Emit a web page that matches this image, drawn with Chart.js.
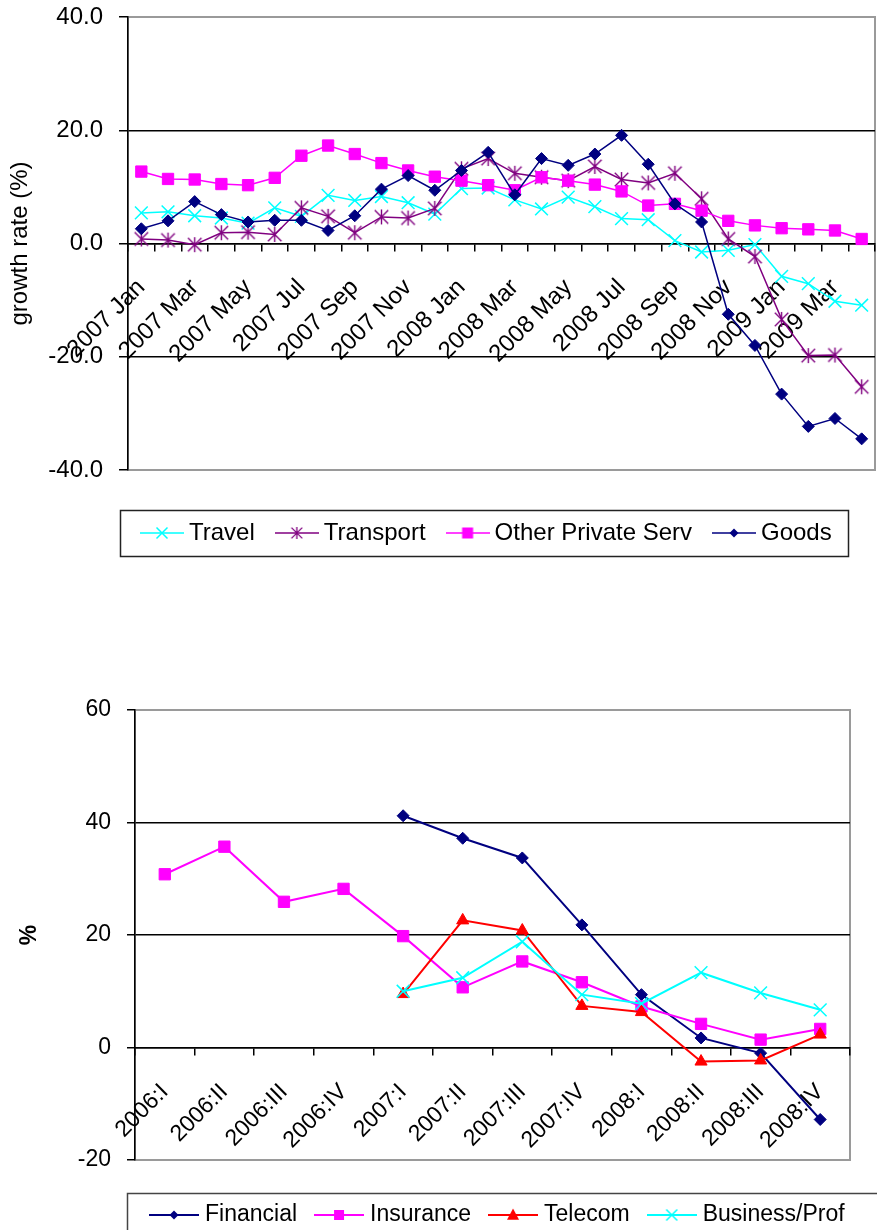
<!DOCTYPE html>
<html>
<head>
<meta charset="utf-8">
<title>Growth rates</title>
<script src="https://cdn.jsdelivr.net/npm/chart.js@4/dist/chart.umd.min.js"></script>
<style>
  html, body { margin: 0; padding: 0; background: #fff; overflow: hidden; }
  #monthly { position: absolute; left: 0; top: 0; width: 877px; height: 600px; }
  #quarterly { position: absolute; left: 0; top: 600px; width: 877px; height: 630px; }
</style>
</head>
<body>
<div id="monthly"><canvas id="monthlyChart"></canvas></div>
<div id="quarterly"><canvas id="quarterlyChart"></canvas></div>
<script>
// ---- monthly series, growth rate (%) ----
const months = [
  '2007 Jan', '2007 Feb', '2007 Mar', '2007 Apr', '2007 May', '2007 Jun', '2007 Jul',
  '2007 Aug', '2007 Sep', '2007 Oct', '2007 Nov', '2007 Dec', '2008 Jan', '2008 Feb',
  '2008 Mar', '2008 Apr', '2008 May', '2008 Jun', '2008 Jul', '2008 Aug', '2008 Sep',
  '2008 Oct', '2008 Nov', '2008 Dec', '2009 Jan', '2009 Feb', '2009 Mar', '2009 Apr'
];
const travel = [5.4, 5.6, 4.9, 4.5, 3.6, 6.3, 4.8, 8.5, 7.6, 8.3, 7.2, 5.2, 9.7, 9.8,
  7.7, 6.1, 8.2, 6.5, 4.4, 4.2, 0.5, -1.5, -1.2, -0.2, -5.8, -7.1, -10.2, -10.9];
const transport = [0.8, 0.6, -0.2, 1.9, 2.0, 1.6, 6.3, 4.8, 1.9, 4.7, 4.5, 6.2, 13.2, 15.0,
  12.4, 11.7, 11.1, 13.6, 11.3, 10.7, 12.4, 7.9, 0.8, -2.3, -13.4, -19.8, -19.7, -25.3];
const otherPrivateServ = [12.7, 11.4, 11.3, 10.5, 10.3, 11.6, 15.5, 17.3, 15.8, 14.2, 12.9, 11.8, 11.1, 10.3,
  9.4, 11.7, 11.1, 10.4, 9.2, 6.7, 7.0, 5.8, 4.0, 3.2, 2.7, 2.5, 2.3, 0.8];
const goods = [2.6, 4.0, 7.4, 5.1, 3.8, 4.1, 4.1, 2.3, 4.9, 9.6, 12.0, 9.4, 12.9, 16.1,
  8.6, 15.0, 13.8, 15.8, 19.1, 14.0, 7.0, 3.8, -12.5, -18.0, -26.6, -32.3, -30.9, -34.5];
const monthlyRange = { min: -40, max: 40, step: 20 };

// ---- quarterly series, % ----
const quarters = ['2006:I', '2006:II', '2006:III', '2006:IV', '2007:I', '2007:II',
  '2007:III', '2007:IV', '2008:I', '2008:II', '2008:III', '2008:IV'];
const financial = [null, null, null, null, 41.2, 37.2, 33.7, 21.8, 9.4, 1.7, -1.0, -12.8];
const insurance = [30.8, 35.7, 25.9, 28.2, 19.8, 10.7, 15.3, 11.6, 7.3, 4.2, 1.4, 3.3];
const telecom = [null, null, null, null, 9.5, 22.6, 20.8, 7.4, 6.3, -2.5, -2.3, 2.3];
const businessProf = [null, null, null, null, 10.0, 12.4, 18.8, 9.4, 7.8, 13.3, 9.7, 6.7];
const quarterlyRange = { min: -20, max: 60, step: 20 };

const FONT = "'Liberation Sans', Arial, Helvetica, sans-serif";
Chart.defaults.font.family = FONT;
Chart.defaults.color = '#000';

const C = {
  cyan: '#00FFFF', purple: '#800080', magenta: '#FF00FF', navy: '#000080', red: '#FF0000',
  frame: '#9a9a9a', axis: '#000'
};

// six-armed asterisk marker (X plus vertical bar)
function asteriskImage(color, size, lw) {
  const c = document.createElement('canvas');
  c.width = c.height = size;
  const g = c.getContext('2d');
  const m = size / 2, r = size / 2 - 1, d = r * 0.9;
  g.strokeStyle = color;
  g.lineWidth = lw;
  g.beginPath();
  g.moveTo(m, m - r); g.lineTo(m, m + r);
  g.moveTo(m - d, m - d); g.lineTo(m + d, m + d);
  g.moveTo(m + d, m - d); g.lineTo(m - d, m + d);
  g.stroke();
  return c;
}

function drawMark(g, kind, x, y, s, color) {
  g.fillStyle = color;
  g.strokeStyle = color;
  g.beginPath();
  if (kind === 'rect') {
    g.fillRect(x - s / 2, y - s / 2, s, s);
  } else if (kind === 'rectRot') {
    g.moveTo(x, y - s / 2); g.lineTo(x + s / 2, y); g.lineTo(x, y + s / 2); g.lineTo(x - s / 2, y);
    g.closePath(); g.fill();
  } else if (kind === 'triangle') {
    g.moveTo(x, y - s * 0.55); g.lineTo(x + s / 2, y + s * 0.4); g.lineTo(x - s / 2, y + s * 0.4);
    g.closePath(); g.fill();
  } else if (kind === 'crossRot') {
    g.lineWidth = 1.5;
    g.moveTo(x - s / 2, y - s / 2); g.lineTo(x + s / 2, y + s / 2);
    g.moveTo(x + s / 2, y - s / 2); g.lineTo(x - s / 2, y + s / 2);
    g.stroke();
  } else if (kind instanceof HTMLCanvasElement) {
    g.drawImage(kind, x - kind.width / 2, y - kind.height / 2);
  }
}

// legend key: short line with the series marker in the middle
function legendIcon(width, color, lineWidth, kind, size) {
  const c = document.createElement('canvas');
  c.width = width; c.height = 20;
  const g = c.getContext('2d');
  g.strokeStyle = color;
  g.lineWidth = lineWidth;
  g.beginPath(); g.moveTo(0, 10); g.lineTo(width, 10); g.stroke();
  drawMark(g, kind, width / 2, 10, size, color);
  return c;
}

function legendLabels(icons) {
  return (chart) => {
    const items = Chart.defaults.plugins.legend.labels.generateLabels(chart);
    items.forEach(it => { it.pointStyle = icons[it.datasetIndex]; it.lineWidth = 0; });
    return items.sort((a, b) => a.datasetIndex - b.datasetIndex);
  };
}

// gray border round the plot area
const plotFrame = {
  id: 'plotFrame',
  beforeDraw(chart, args, opts) {
    const { ctx, chartArea: a } = chart;
    ctx.save();
    ctx.strokeStyle = opts.color;
    ctx.lineWidth = opts.width;
    ctx.strokeRect(a.left, a.top, a.right - a.left, a.bottom - a.top);
    ctx.restore();
  }
};

// legend placed in its own boxed area below the plot
const legendBox = {
  id: 'legendBox',
  afterLayout(chart, args, opts) {
    const lg = chart.legend;
    if (!lg) return;
    const w = lg.width, h = lg.height;
    lg.left = opts.left; lg.top = opts.top;
    lg.right = opts.left + w; lg.bottom = opts.top + h;
  },
  afterDraw(chart, args, opts) {
    const { ctx } = chart;
    const f = opts.frame;
    ctx.save();
    ctx.strokeStyle = opts.color;
    ctx.lineWidth = opts.lineWidth;
    ctx.strokeRect(f.x, f.y, f.w, f.h);
    ctx.restore();
  }
};

function edgeGrid(range) {
  return (ctx) => (ctx.tick.value === range.min || ctx.tick.value === range.max) ? 'rgba(0,0,0,0)' : C.axis;
}

// the category axis sits on the zero line and takes no layout room
function zeroAxisFit(s) { s.height = 0; s.paddingLeft = 0; s.paddingRight = 0; }
function valueAxisFit(width) {
  return (s) => { s.width = width; s.paddingTop = 0; s.paddingBottom = 0; };
}

// ---------------- monthly chart ----------------
const star = asteriskImage(C.purple, 17, 1.4);
const monthlyIcons = [
  legendIcon(44, C.cyan, 1.5, 'crossRot', 11),
  legendIcon(44, C.purple, 1.5, asteriskImage(C.purple, 14, 1.3), 0),
  legendIcon(44, C.magenta, 1.5, 'rect', 11),
  legendIcon(44, C.navy, 1.5, 'rectRot', 9)
];

new Chart(document.getElementById('monthlyChart'), {
  type: 'line',
  data: {
    labels: months,
    datasets: [
      { label: 'Travel', data: travel, borderColor: C.cyan, backgroundColor: C.cyan, borderWidth: 1.5,
        pointStyle: 'crossRot', pointRadius: 9, pointBorderWidth: 1.5, pointBorderColor: C.cyan, order: 4 },
      { label: 'Transport', data: transport, borderColor: C.purple, backgroundColor: C.purple, borderWidth: 1.5,
        pointStyle: star, pointRadius: 8, order: 3 },
      { label: 'Other Private Serv', data: otherPrivateServ, borderColor: C.magenta, backgroundColor: C.magenta,
        borderWidth: 1.5, pointStyle: 'rect', pointRadius: 8, pointBorderWidth: 1,
        pointBackgroundColor: C.magenta, pointBorderColor: C.magenta, order: 2 },
      { label: 'Goods', data: goods, borderColor: C.navy, backgroundColor: C.navy, borderWidth: 1.5,
        pointStyle: 'rectRot', pointRadius: 6, pointBorderWidth: 1,
        pointBackgroundColor: C.navy, pointBorderColor: C.navy, order: 1 }
    ]
  },
  options: {
    responsive: true, maintainAspectRatio: false, animation: false, events: [],
    layout: { autoPadding: false, padding: { left: 0, right: 2, top: 17, bottom: 69 } },
    scales: {
      x: {
        type: 'category',
        position: { y: 0 },
        offset: true,
        grid: { offset: true, drawOnChartArea: false, drawTicks: true, tickLength: 7, color: C.axis, lineWidth: 1.5 },
        border: { color: C.axis, width: 1.5 },
        ticks: {
          autoSkip: false, minRotation: 45, maxRotation: 45, padding: 23, labelOffset: 0,
          font: { size: 24 }, color: '#000',
          callback: (v, i) => (i % 2 === 0 ? months[i] : '')
        },
        afterFit: zeroAxisFit
      },
      y: {
        min: monthlyRange.min, max: monthlyRange.max,
        ticks: { stepSize: monthlyRange.step, padding: 16, font: { size: 24 }, color: '#000',
          callback: (v) => Number(v).toFixed(1) },
        grid: { color: edgeGrid(monthlyRange), tickColor: C.axis, lineWidth: 1.5, tickLength: 9 },
        border: { color: C.axis, width: 1.5 },
        title: { display: true, text: 'growth rate (%)', font: { size: 24 }, color: '#000', padding: { top: 6, bottom: 0 } },
        afterFit: valueAxisFit(128)
      }
    },
    plugins: {
      legend: {
        position: 'bottom', align: 'start',
        labels: { usePointStyle: true, pointStyleWidth: 30, padding: 27, font: { size: 24 }, color: '#000',
          generateLabels: legendLabels(monthlyIcons) }
      },
      tooltip: { enabled: false },
      plotFrame: { color: C.frame, width: 2 },
      legendBox: { left: 120, top: 494, frame: { x: 120.5, y: 510.5, w: 728, h: 46 }, color: '#222', lineWidth: 1.5 }
    }
  },
  plugins: [plotFrame, legendBox]
});

// ---------------- quarterly chart ----------------
const quarterlyIcons = [
  legendIcon(50, C.navy, 2, 'rectRot', 9),
  legendIcon(50, C.magenta, 2, 'rect', 10),
  legendIcon(50, C.red, 2, 'triangle', 12),
  legendIcon(50, C.cyan, 2, 'crossRot', 11)
];

new Chart(document.getElementById('quarterlyChart'), {
  type: 'line',
  data: {
    labels: quarters,
    datasets: [
      { label: 'Financial', data: financial, borderColor: C.navy, backgroundColor: C.navy, borderWidth: 2,
        pointStyle: 'rectRot', pointRadius: 6, pointBorderWidth: 1,
        pointBackgroundColor: C.navy, pointBorderColor: C.navy, order: 4 },
      { label: 'Insurance', data: insurance, borderColor: C.magenta, backgroundColor: C.magenta, borderWidth: 2,
        pointStyle: 'rect', pointRadius: 8, pointBorderWidth: 1,
        pointBackgroundColor: C.magenta, pointBorderColor: C.magenta, order: 3 },
      { label: 'Telecom', data: telecom, borderColor: C.red, backgroundColor: C.red, borderWidth: 2,
        pointStyle: 'triangle', pointRadius: 7, pointBorderWidth: 1,
        pointBackgroundColor: C.red, pointBorderColor: C.red, order: 2 },
      { label: 'Business/Prof', data: businessProf, borderColor: C.cyan, backgroundColor: C.cyan, borderWidth: 2,
        pointStyle: 'crossRot', pointRadius: 9, pointBorderWidth: 1.5, pointBorderColor: C.cyan, order: 1 }
    ]
  },
  options: {
    responsive: true, maintainAspectRatio: false, animation: false, events: [],
    layout: { autoPadding: false, padding: { left: 0, right: 27, top: 110, bottom: 14.5 } },
    scales: {
      x: {
        type: 'category',
        position: { y: 0 },
        offset: true,
        grid: { offset: true, drawOnChartArea: false, drawTicks: true, tickLength: 7, color: C.axis, lineWidth: 1.5 },
        border: { color: C.axis, width: 1.5 },
        ticks: { autoSkip: false, minRotation: 45, maxRotation: 45, padding: 24, labelOffset: 0,
          font: { size: 23 }, color: '#000' },
        afterFit: zeroAxisFit
      },
      y: {
        min: quarterlyRange.min, max: quarterlyRange.max,
        ticks: { stepSize: quarterlyRange.step, padding: 16, font: { size: 23 }, color: '#000' },
        grid: { color: edgeGrid(quarterlyRange), tickColor: C.axis, lineWidth: 1.5, tickLength: 8 },
        border: { color: C.axis, width: 1.5 },
        title: { display: true, text: '%', font: { size: 23, weight: 'bold' }, color: '#000', padding: { top: 16, bottom: 0 } },
        afterFit: valueAxisFit(135)
      }
    },
    plugins: {
      legend: {
        position: 'bottom', align: 'start',
        labels: { usePointStyle: true, pointStyleWidth: 39, padding: 22.5, font: { size: 23 }, color: '#000',
          generateLabels: legendLabels(quarterlyIcons) }
      },
      tooltip: { enabled: false },
      plotFrame: { color: C.frame, width: 2 },
      legendBox: { left: 132, top: 581, frame: { x: 127.5, y: 593.5, w: 800, h: 100 }, color: '#444', lineWidth: 1.5 }
    }
  },
  plugins: [plotFrame, legendBox]
});
</script>
</body>
</html>
